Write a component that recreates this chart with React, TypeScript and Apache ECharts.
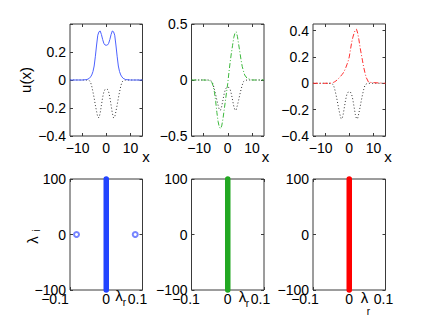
import React, { useEffect, useRef } from "react";
import * as echarts from "echarts";

// sample positions along x
const xs = [-15, -10, -8, -7, -6.5, -6, -5.5, -5, -4.5, -4, -3.5, -3, -2.5, -2, -1.5, -1, -0.5, 0, 0.5, 1, 1.5, 2, 2.5, 3, 3.5, 4, 4.5, 5, 5.5, 6, 6.5, 7, 8, 10, 15];
// blue solid profile (panel 1)
const uBlue = [0, 0, 0.003, 0.012, 0.022, 0.036, 0.06, 0.1, 0.17, 0.25, 0.32, 0.345, 0.35, 0.325, 0.29, 0.262, 0.25, 0.248, 0.25, 0.262, 0.29, 0.325, 0.35, 0.345, 0.32, 0.25, 0.17, 0.1, 0.06, 0.036, 0.022, 0.012, 0.003, 0, 0];
// black dotted profile (all top panels)
const uDotted = [0, 0, 0, -0.005, -0.015, -0.045, -0.085, -0.13, -0.18, -0.225, -0.265, -0.27, -0.235, -0.18, -0.125, -0.085, -0.067, -0.065, -0.067, -0.085, -0.125, -0.18, -0.235, -0.27, -0.265, -0.225, -0.18, -0.13, -0.085, -0.045, -0.015, -0.005, 0, 0, 0];
// green dash-dot profile (panel 2)
const uGreen = [0, 0, -0.002, -0.01, -0.025, -0.055, -0.11, -0.19, -0.29, -0.37, -0.42, -0.435, -0.41, -0.35, -0.27, -0.19, -0.11, -0.03, 0.07, 0.16, 0.24, 0.31, 0.38, 0.42, 0.43, 0.39, 0.32, 0.25, 0.18, 0.12, 0.08, 0.045, 0.015, 0, 0];
// red dash-dot profile (panel 3)
const uRed = [0, 0, 0, 0.003, 0.007, 0.012, 0.018, 0.026, 0.035, 0.045, 0.055, 0.066, 0.078, 0.095, 0.115, 0.14, 0.165, 0.2, 0.255, 0.31, 0.35, 0.38, 0.405, 0.41, 0.38, 0.33, 0.27, 0.22, 0.17, 0.12, 0.08, 0.045, 0.008, 0.005, 0];

// spectra (bottom panels)
const contR = [0, 0];
const contI = [-100, 100];
const discR = [-0.082, 0.08];
const discI = [0, 0];

// ticks
const topXTicks = [-10, 0, 10];
const botXTicks = [-0.1, 0, 0.1];
const botYTicks = [-100, 0, 100];
const y1Labels = [-0.4, -0.2, 0, 0.2];
const y1Ticks = [-0.4, -0.2, 0, 0.2, 0.4];
const y2Ticks = [-0.5, 0, 0.5];
const y3Ticks = [-0.4, -0.2, 0, 0.2, 0.4];

const FONT = "'Liberation Sans', Arial, Helvetica, sans-serif";
const FS = 14;
const AX = "#3a3a3a";

function fmt(v: number) {
  const s = String(Math.round(v * 1000) / 1000);
  return s.replace("-", "\u2212");
}

export default function App() {
  const ref = useRef<HTMLDivElement>(null);
  useEffect(() => {
    if (!ref.current) return;
    const chart = echarts.init(ref.current, undefined, { renderer: "svg" });

    const panels = [
      { left: 70, top: 24, h: 112, xmin: -15, xmax: 15, ymin: -0.4, ymax: 0.4, xt: topXTicks, yl: y1Labels, yt: y1Ticks, xm: 5, negPad: 9, posPad: 0 },
      { left: 191.5, top: 24, h: 112, xmin: -15, xmax: 15, ymin: -0.5, ymax: 0.5, xt: topXTicks, yl: y2Ticks, yt: y2Ticks, xm: 5, negPad: 9, posPad: 0 },
      { left: 313, top: 24, h: 112, xmin: -15, xmax: 15, ymin: -0.4, ymax: 0.45, xt: topXTicks, yl: y3Ticks, yt: y3Ticks, xm: 5, negPad: 9, posPad: 0 },
      { left: 70, top: 179, h: 111, xmin: -0.1, xmax: 0.1, ymin: -100, ymax: 100, xt: botXTicks, yl: botYTicks, yt: botYTicks, xm: 2, negPad: 30, posPad: 10 },
      { left: 191.5, top: 179, h: 111, xmin: -0.1, xmax: 0.1, ymin: -100, ymax: 100, xt: botXTicks, yl: botYTicks, yt: botYTicks, xm: 2, negPad: 11, posPad: 7 },
      { left: 313, top: 179, h: 111, xmin: -0.1, xmax: 0.1, ymin: -100, ymax: 100, xt: botXTicks, yl: botYTicks, yt: botYTicks, xm: 2, negPad: 16, posPad: 4 },
    ];

    const grid = panels.map((p) => ({
      left: p.left, top: p.top, width: 72.5, height: p.h,
      show: true, borderColor: AX, borderWidth: 1, backgroundColor: "transparent",
      containLabel: false, outerBoundsMode: "none",
    }));

    const richBase = { fontSize: FS, fontFamily: FONT, color: "#000", lineHeight: 14 };
    const noLine = { show: false, onZero: false };
    const xAxis: any[] = [];
    const yAxis: any[] = [];
    panels.forEach((p, i) => {
      xAxis.push({
        gridIndex: i, type: "value", min: p.xmin, max: p.xmax, position: "bottom",
        axisLine: noLine, splitLine: { show: false },
        axisTick: { show: true, inside: true, length: 3, customValues: p.xt, lineStyle: { color: AX } },
        axisLabel: {
          show: true, customValues: p.xt, margin: p.xm, fontSize: FS, fontFamily: FONT, color: "#000", lineHeight: 14,
          formatter: (v: number) => (v < 0 ? `{n|${fmt(v)}}` : v > 0 ? `{p|${fmt(v)}}` : `{z|0}`),
          rich: {
            n: { ...richBase, padding: [0, p.negPad, 0, 0] },
            p: { ...richBase, padding: [0, p.posPad, 0, 0] },
            z: { ...richBase },
          },
        },
      });
      yAxis.push({
        gridIndex: i, type: "value", min: p.ymin, max: p.ymax, position: "left",
        axisLine: noLine, splitLine: { show: false },
        axisTick: { show: true, inside: true, length: 3, customValues: p.yt, lineStyle: { color: AX } },
        axisLabel: { show: true, customValues: p.yl, margin: 4, fontSize: FS, fontFamily: FONT, color: "#000", lineHeight: 14, formatter: (v: number) => fmt(v) },
      });
    });
    panels.forEach((p, i) => {
      xAxis.push({
        gridIndex: i, type: "value", min: p.xmin, max: p.xmax, position: "top",
        axisLine: noLine, splitLine: { show: false }, axisLabel: { show: false },
        axisTick: { show: true, inside: true, length: 3, customValues: p.xt, lineStyle: { color: AX } },
      });
      yAxis.push({
        gridIndex: i, type: "value", min: p.ymin, max: p.ymax, position: "right",
        axisLine: noLine, splitLine: { show: false }, axisLabel: { show: false },
        axisTick: { show: true, inside: true, length: 3, customValues: p.yt, lineStyle: { color: AX } },
      });
    });

    const pair = (a: number[], b: number[]) => a.map((x, k) => [x, b[k]]);
    const line = (i: number, ys: number[], color: string, type: any, width = 1) => ({
      type: "line", xAxisIndex: i, yAxisIndex: i, data: pair(xs, ys), showSymbol: false, symbol: "none",
      lineStyle: { color, width, type }, silent: true,
    });

    const series: any[] = [
      line(0, uDotted, "#333", [1, 2.2]),
      line(0, uBlue, "#4d62ff", "solid"),
      line(1, uDotted, "#333", [1, 2.2]),
      line(1, uGreen, "#3cb83c", [5, 2, 1, 2]),
      line(2, uDotted, "#333", [1, 2.2]),
      line(2, uRed, "#ff3030", [5, 2, 1, 2]),
    ];
    const specColors = ["#2244ff", "#22a822", "#ff0000"];
    [3, 4, 5].forEach((gi, k) => {
      series.push({
        type: "line", xAxisIndex: gi, yAxisIndex: gi, data: pair(contR, contI), showSymbol: false, symbol: "none",
        clip: false, lineStyle: { color: specColors[k], width: 5.5, cap: "round" }, silent: true,
      });
    });
    series.push({
      type: "scatter", xAxisIndex: 3, yAxisIndex: 3, data: pair(discR, discI), symbol: "emptyCircle", symbolSize: 5,
      itemStyle: { color: "#5566ff", borderWidth: 1 }, silent: true,
    });

    const txt = (x: number, y: number, text: string, fs: number, rot = 0) => ({
      type: "text", x, y, rotation: rot, silent: true,
      style: { text, font: `${fs}px ${FONT}`, fill: "#000", align: "center", verticalAlign: "middle" },
    });

    const graphic = [
      txt(25, 80, "u(x)", 15, Math.PI / 2),
      txt(146, 156, "x", 15),
      txt(265.5, 156, "x", 15),
      txt(388, 156, "x", 15),
      txt(32, 240, "\u03bb", 15, Math.PI / 2),
      txt(36, 230.5, "i", 10, Math.PI / 2),
      txt(119, 295.5, "\u03bb", 15),
      txt(124.5, 302.5, "r", 10),
      txt(242.5, 296.5, "\u03bb", 15),
      txt(247.5, 303.5, "r", 10),
      txt(364.5, 297.5, "\u03bb", 15),
      txt(368.5, 311, "r", 10),
    ];

    chart.setOption({ animation: false, backgroundColor: "#fff", grid, xAxis, yAxis, series, graphic });
    return () => chart.dispose();
  }, []);
  return <div ref={ref} style={{ position: "fixed", left: 0, top: 0, width: 432, height: 327 }} />;
}
